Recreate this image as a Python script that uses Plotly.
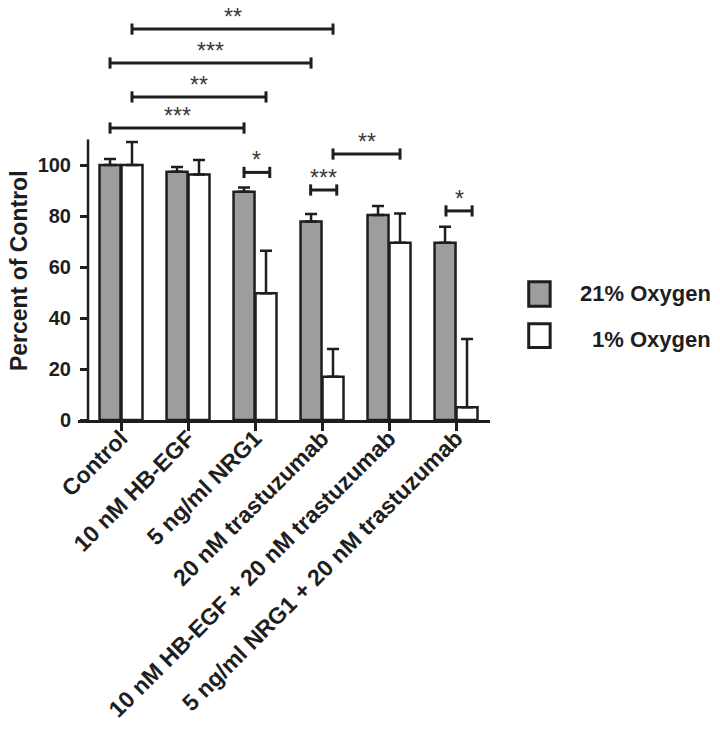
import plotly.graph_objects as go

categories = ["Control", "10 nM HB-EGF", "5 ng/ml NRG1", "20 nM trastuzumab",
              "10 nM HB-EGF + 20 nM trastuzumab", "5 ng/ml NRG1 + 20 nM trastuzumab"]
oxy21 = [100, 97.4, 89.5, 77.8, 80.4, 69.5]
oxy21_err = [2.4, 1.8, 1.7, 3.0, 3.5, 6.3]
oxy1 = [100, 96.3, 49.7, 17.0, 69.5, 5.0]
oxy1_err = [9.0, 5.7, 16.7, 10.8, 11.5, 26.8]

# significance brackets: (x0, x1, y, label) in category units / percent
brk_x0 = [0.164, -0.164, 0.164, -0.164, 1.836, 2.83, 3.164, 4.85]
brk_x1 = [3.164, 2.836, 2.164, 1.836, 2.22, 3.22, 4.164, 5.24]
brk_y = [153.3, 140.0, 126.7, 114.5, 97.1, 90.2, 104.3, 82.0]
brk_lab = ["**", "***", "**", "***", "*", "***", "**", "*"]

GRAY = "#9d9da0"
INK = "#1e1e1e"
FONT = "Liberation Sans, Arial, Helvetica, sans-serif"
xs = list(range(len(categories)))

fig = go.Figure()
fig.add_trace(go.Bar(
    x=xs, y=oxy21, name="21% Oxygen",
    marker=dict(color=GRAY, line=dict(color=INK, width=2.5)),
    error_y=dict(type="data", symmetric=False, array=oxy21_err,
                 arrayminus=[0] * 6, color=INK, thickness=2.5, width=6),
))
fig.add_trace(go.Bar(
    x=xs, y=oxy1, name="1% Oxygen",
    marker=dict(color="white", line=dict(color=INK, width=2.5)),
    error_y=dict(type="data", symmetric=False, array=oxy1_err,
                 arrayminus=[0] * 6, color=INK, thickness=2.5, width=6),
))

shapes = []
annotations = []
cap = 2.2
for x0, x1, y, lab in zip(brk_x0, brk_x1, brk_y, brk_lab):
    shapes.append(dict(type="line", xref="x", yref="y", x0=x0, x1=x1, y0=y, y1=y,
                       line=dict(color=INK, width=3)))
    for xe in (x0, x1):
        shapes.append(dict(type="line", xref="x", yref="y", x0=xe, x1=xe,
                           y0=y - cap, y1=y + cap, line=dict(color=INK, width=3)))
    annotations.append(dict(x=(x0 + x1) / 2, y=y, xref="x", yref="y", text=lab,
                            showarrow=False, yanchor="bottom", yshift=-3,
                            font=dict(family=FONT, size=23, color="#3a3a3a")))

# y axis line (only up to 110)
YPOS = 0.0243
shapes.append(dict(type="line", xref="paper", yref="y", x0=YPOS, x1=YPOS, y0=0, y1=110,
                   line=dict(color=INK, width=2.5)))

# legend
shapes.append(dict(type="rect", xref="paper", yref="paper", x0=1.094, x1=1.146,
                   y0=0.274, y1=0.333, fillcolor=GRAY, line=dict(color=INK, width=3)))
shapes.append(dict(type="rect", xref="paper", yref="paper", x0=1.094, x1=1.146,
                   y0=0.175, y1=0.232, fillcolor="white", line=dict(color=INK, width=3)))
annotations.append(dict(x=1.541, y=0.306, xref="paper", yref="paper", text="21% Oxygen",
                        showarrow=False, xanchor="right", yanchor="middle",
                        font=dict(family=FONT, size=22, color=INK, weight="bold")))
annotations.append(dict(x=1.541, y=0.193, xref="paper", yref="paper", text="1% Oxygen",
                        showarrow=False, xanchor="right", yanchor="middle",
                        font=dict(family=FONT, size=22, color=INK, weight="bold")))
# y title
annotations.append(dict(x=-0.143, y=0.359, xref="paper", yref="paper",
                        text="Percent of Control", textangle=-90, showarrow=False,
                        xanchor="center", yanchor="middle",
                        font=dict(family=FONT, size=23, color=INK, weight="bold")))

fig.update_layout(
    width=720, height=729,
    margin=dict(l=78, r=230, t=5, b=309, autoexpand=False),
    paper_bgcolor="white", plot_bgcolor="white",
    barmode="group", bargap=0.344, bargroupgap=0.045,
    showlegend=False,
    shapes=shapes, annotations=annotations,
    xaxis=dict(range=[-0.642, 5.507], tickvals=xs, ticktext=categories,
               tickangle=-45, showline=True, linecolor=INK, linewidth=2.5,
               ticks="outside", ticklen=8, tickwidth=2.5, tickcolor=INK,
               showgrid=False, zeroline=False, automargin=False,
               ticklabelstandoff=-15,
               tickfont=dict(family=FONT, size=23, color=INK, weight="bold")),
    yaxis=dict(range=[0, 162.75], tickvals=[0, 20, 40, 60, 80, 100],
               anchor="free", position=YPOS, showline=False, automargin=False,
               ticks="outside", ticklen=8, tickwidth=2.5, tickcolor=INK,
               showgrid=False, zeroline=False, ticklabelstandoff=5,
               tickfont=dict(family=FONT, size=20, color=INK, weight="bold")),
)

fig.write_html("out.html", config={"displayModeBar": False},
               post_script="document.body.style.margin='0';document.body.style.overflow='hidden';")
